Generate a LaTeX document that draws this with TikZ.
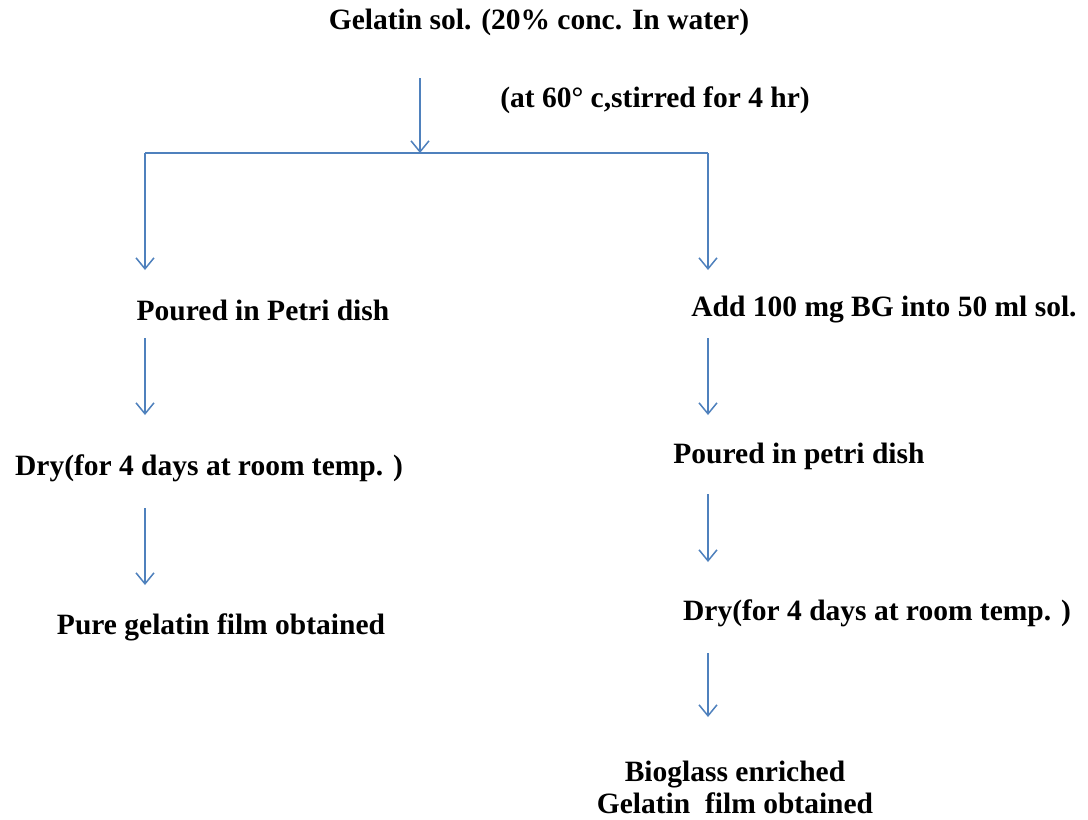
\documentclass[tikz,border=0pt]{standalone}
\usepackage{fontspec}
\setmainfont{Liberation Serif}
\usetikzlibrary{arrows.meta}
\definecolor{lineblue}{RGB}{79,129,189}
\begin{document}
\begin{tikzpicture}[x=1pt,y=-1pt,
  lbl/.style={font=\fontsize{29.5}{32}\selectfont\bfseries, inner sep=0pt, align=center},
  arr/.style={draw=lineblue, line width=1.5pt, -{Straight Barb[length=11pt,width=18pt,line width=1.5pt]}},
  ln/.style={draw=lineblue, line width=1.5pt}]
\useasboundingbox (0,0) rectangle (1088,820);
\fill[white] (0,0) rectangle (1088,820);
% text
\node[lbl] (top) at (539,22) {Gelatin sol. (20\% conc. In water)};
\node[lbl] (cond) at (655,100) {(at 60° c,stirred for 4 hr)};
\node[lbl] (lp) at (263,310) {Poured in Petri dish};
\node[lbl] (ra) at (884,310) {Add 100 mg BG into 50 ml sol.};
\node[lbl] (ld) at (209,468) {Dry(for 4 days at room temp. )};
\node[lbl] (lf) at (221,627) {Pure gelatin film obtained};
\node[lbl] (rp) at (799,456) {Poured in petri dish};
\node[lbl] (rd) at (877,613) {Dry(for 4 days at room temp. )};
\node[lbl] (rf) at (735,787) {Bioglass enriched\\Gelatin\ \ film obtained};
% coordinates
\coordinate (a0) at (420,78);
\coordinate (a1) at (420,153);
\coordinate (bl) at (145,153);
\coordinate (br) at (708,153);
\coordinate (bl2) at (145,270);
\coordinate (br2) at (708,270);
\coordinate (l1s) at (145,338);
\coordinate (l1e) at (145,415);
\coordinate (l2s) at (145,508);
\coordinate (l2e) at (145,585);
\coordinate (r1s) at (708,338);
\coordinate (r1e) at (708,415);
\coordinate (r2s) at (708,494);
\coordinate (r2e) at (708,562);
\coordinate (r3s) at (708,653);
\coordinate (r3e) at (708,717);
% connectors
\draw[ln] (bl) -- (br);
\draw[arr] (a0) -- (a1);
\draw[arr] (bl) -- (bl2);
\draw[arr] (br) -- (br2);
\draw[arr] (l1s) -- (l1e);
\draw[arr] (l2s) -- (l2e);
\draw[arr] (r1s) -- (r1e);
\draw[arr] (r2s) -- (r2e);
\draw[arr] (r3s) -- (r3e);
\end{tikzpicture}
\end{document}
